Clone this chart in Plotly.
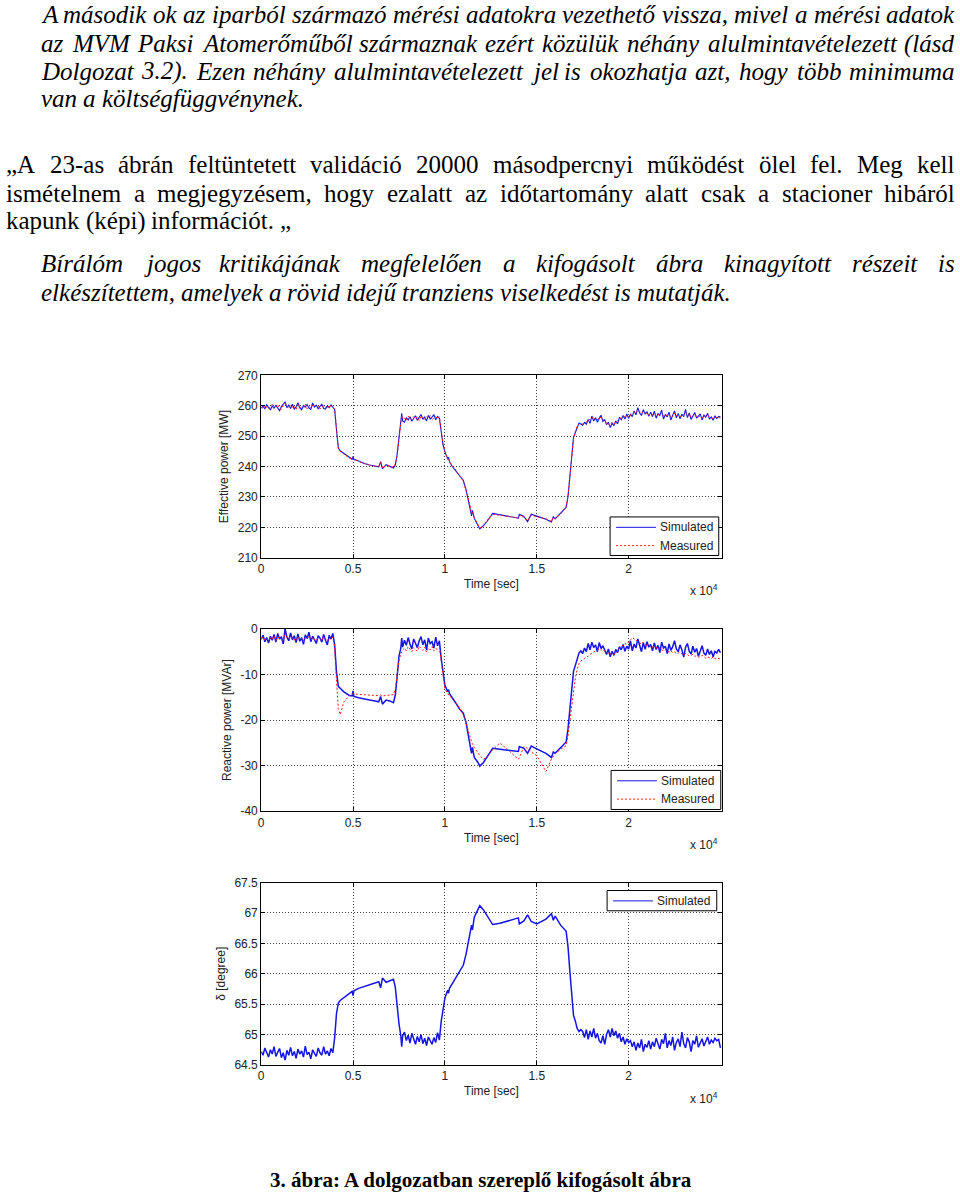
import plotly.graph_objects as go

W, H = 960, 1193

# ---------------- data (time in seconds) ----------------
t_sec = [0, 100, 200, 300, 400, 500, 600, 700, 800, 900, 1000, 1100, 1200, 1300, 1400, 1500, 1600, 1700, 1800, 1900,
         2000, 2100, 2200, 2300, 2400, 2500, 2600, 2700, 2800, 2900, 3000, 3100, 3200, 3300, 3400, 3500, 3600, 3700, 3800, 3900,
         4000, 4100, 4200, 4300, 4500, 4800, 4950, 5000, 5050, 5300, 5600, 5900, 6200, 6400, 6500, 6600, 6800, 7000, 7200, 7300,
         7400, 7500, 7600, 7650,
         7700, 7800, 7900, 8000, 8100, 8200, 8300, 8400, 8500, 8600, 8700, 8800, 8900, 9000, 9100, 9200, 9300, 9400, 9500, 9600, 9700,
         9800, 9900, 10000, 10150, 10200, 10250, 10400, 10600, 10800, 11000, 11150, 11300, 11400, 11450, 11500, 11600, 11800, 11900,
         12100, 12300, 12600, 13000, 13500, 14000, 14050, 14300, 14500, 14700, 15000, 15500, 15800, 15900, 16000, 16300, 16600,
         16700, 16800, 16900, 17000, 17100, 17200, 17300, 17400,
         17500, 17600, 17700, 17800, 17900, 18000, 18100, 18200, 18300, 18400, 18500, 18600, 18700, 18800, 18900, 19000, 19100,
         19200, 19300, 19400, 19500, 19600, 19700, 19800, 19900, 20000, 20100, 20200, 20300, 20400, 20500, 20600, 20700, 20800,
         20900, 21000, 21100, 21200, 21300, 21400, 21500, 21600, 21700, 21800, 21900, 22000, 22100, 22200, 22300, 22400, 22500,
         22600, 22700, 22800, 22900, 23000, 23100, 23200, 23300, 23400, 23500, 23600, 23700, 23800, 23900, 24000, 24100, 24200,
         24300, 24400, 24500, 24600, 24700, 24800, 24900, 25000]

p_sim = [259.2, 259.8, 259.0, 260.3, 259.5, 258.6, 259.9, 259.3, 260.1, 259.0, 258.4, 259.7, 260.6, 261.3, 259.4, 260.2, 259.1, 260.5, 258.9, 259.6,
         261.0, 259.3, 258.7, 260.0, 259.5, 260.4, 259.2, 258.8, 260.9, 259.6, 260.2, 259.0, 259.8, 260.5, 259.1, 258.9, 260.0, 259.4, 260.3, 259.6,
         258.8, 252.0, 246.0, 245.2, 244.3, 243.0, 242.4, 243.3, 242.3, 241.8, 241.0, 240.5, 240.2, 239.9, 241.6, 239.3, 240.6, 240.1, 239.5, 240.5,
         244.0, 249.5, 254.0, 257.5,
         255.0, 254.6, 256.1, 255.3, 256.4, 254.9, 255.8, 256.7, 255.2, 256.0, 257.1, 255.5, 256.3, 255.0, 256.8, 255.6, 256.2, 257.0, 255.4, 256.5, 255.9,
         251.5, 247.0, 244.8, 242.6, 243.0, 241.6, 240.0, 238.6, 237.2, 235.5, 232.5, 228.5, 226.0, 223.8, 225.6, 223.0, 220.6, 219.5,
         220.6, 222.0, 224.6, 224.2, 223.6, 223.0, 224.3, 223.6, 221.9, 224.3, 223.7, 222.7, 221.8, 223.5, 222.8, 224.6, 226.6,
         230.0, 236.0, 242.0, 249.5, 251.2, 253.0, 254.3, 254.0,
         253.6, 254.5, 253.9, 255.5, 254.2, 256.6, 255.0, 256.1, 254.6, 255.8, 256.9, 254.8, 255.4, 253.8, 254.6, 252.8, 254.2,
         253.5, 255.0, 254.0, 256.2, 255.4, 256.8, 255.6, 257.3, 255.9, 257.2, 256.4, 258.3, 257.0, 259.4, 257.6, 256.8, 258.7,
         257.3, 258.0, 256.5, 257.9, 256.4, 258.2, 255.9, 257.4, 256.8, 258.6, 255.6, 257.1, 256.3, 257.9, 255.3, 256.9, 258.3,
         256.0, 257.5, 255.7, 257.2, 256.4, 258.8, 256.1, 257.6, 255.5, 256.8, 257.8, 255.9, 256.6, 257.3, 255.4, 256.9, 256.2,
         257.5, 255.6, 256.3, 255.2, 256.7, 255.8, 256.5, 256.3]

p_meas = [259.6, 259.1, 260.2, 259.4, 258.9, 259.7, 260.4, 259.0, 259.6, 260.3, 259.2, 258.8, 260.1, 260.8, 259.9, 259.3, 260.4, 259.5, 259.8, 258.7,
          260.3, 259.9, 259.1, 259.5, 260.6, 259.0, 259.7, 259.3, 260.1, 260.4, 259.4, 259.9, 258.9, 259.6, 260.2, 259.5, 259.1, 260.2, 259.7, 259.2,
          259.0, 252.5, 246.3, 245.0, 244.1, 242.8, 242.6, 243.0, 242.5, 241.7, 241.1, 240.6, 240.0, 240.1, 241.3, 239.6, 240.4, 240.2, 239.7, 240.8,
          243.5, 249.0, 253.6, 256.8,
          255.6, 255.9, 255.2, 256.6, 255.7, 255.5, 256.4, 255.8, 256.3, 255.1, 256.5, 256.2, 255.4, 256.6, 255.9, 256.9, 255.3, 256.1, 256.4, 255.7, 256.3,
          252.0, 247.5, 245.0, 242.3, 242.8, 241.8, 240.2, 238.9, 237.0, 235.2, 232.0, 228.8, 226.5, 224.5, 225.2, 223.2, 220.8, 219.8,
          220.5, 222.3, 224.3, 224.0, 223.5, 223.1, 224.0, 223.4, 222.2, 224.0, 223.5, 222.8, 222.0, 223.2, 222.9, 224.4, 226.8,
          230.5, 236.5, 242.5, 249.0, 251.5, 253.2, 254.0, 254.3,
          254.0, 254.2, 254.6, 255.0, 255.7, 255.9, 256.3, 255.4, 255.2, 256.4, 256.0, 255.6, 254.9, 254.2, 253.9, 253.5, 254.6,
          254.0, 254.4, 255.2, 255.8, 256.0, 256.2, 256.5, 256.7, 256.4, 257.0, 257.5, 257.8, 257.6, 258.5, 258.2, 257.4, 258.0,
          257.6, 257.5, 257.0, 257.3, 257.0, 257.5, 256.6, 256.9, 257.3, 257.8, 256.5, 256.8, 256.9, 257.3, 256.2, 256.5, 257.6,
          256.8, 257.0, 256.4, 256.8, 256.9, 257.9, 256.7, 257.1, 256.3, 256.4, 257.2, 256.5, 256.2, 256.8, 256.0, 256.3, 256.5,
          256.9, 256.2, 256.0, 255.8, 256.2, 256.0, 256.1, 256.0]

q_sim = [-2.3, -1.4, -2.8, -1.9, -3.1, -1.6, -2.5, -1.2, -2.9, -1.0, -2.2, -1.7, -3.3, 0.0, -1.8, -2.6, -0.9, -2.4, -1.5, -3.0,
         -1.1, -2.7, -1.9, -3.4, -1.3, -2.1, -0.7, -2.8, -1.6, -2.4, -3.2, -1.5, -2.0, -2.9, -1.2, -2.5, -3.5, -1.4, -2.2, -1.0,
         -3.5, -9.5, -12.6, -13.0, -13.8, -14.6, -14.7, -13.6, -14.8, -15.1, -15.4, -15.6, -15.8, -16.0, -14.8, -16.5, -15.6, -15.8, -16.2, -14.5,
         -10.5, -6.0, -4.2, -2.0,
         -4.0, -2.5, -3.6, -1.9, -3.3, -4.4, -2.2, -3.0, -4.1, -2.6, -1.7, -3.5, -2.4, -4.6, -2.0, -3.2, -2.8, -4.2, -1.8, -3.7, -2.6,
         -6.5, -10.0, -12.3, -13.8, -13.3, -14.2, -15.0, -16.3, -17.6, -18.5, -20.5, -23.5, -25.5, -27.3, -26.0, -28.2, -29.3, -30.1,
         -29.3, -28.0, -26.2, -26.4, -26.6, -26.9, -25.8, -26.2, -27.3, -25.7, -26.3, -27.3, -28.2, -27.0, -27.3, -26.0, -24.8,
         -22.0, -18.0, -13.5, -9.3, -8.0, -6.5, -5.3, -4.8,
         -5.4, -4.2, -5.0, -3.2, -4.6, -2.9, -4.1, -3.5, -5.0, -3.0, -4.3, -3.7, -4.8, -5.6, -4.4, -6.1, -4.9,
         -5.8, -4.5, -5.2, -3.9, -4.6, -3.4, -4.9, -3.8, -4.4, -2.6, -4.8, -3.3, -4.2, -2.2, -3.9, -5.0, -3.0,
         -4.5, -2.8, -4.0, -3.4, -4.8, -3.1, -4.5, -3.6, -5.2, -2.9, -4.2, -3.8, -5.4, -3.3, -4.7, -3.9, -2.6,
         -4.4, -5.0, -3.5, -4.6, -6.2, -4.0, -3.2, -4.9, -5.5, -3.8, -5.1, -4.3, -6.0, -4.6, -3.7, -5.3, -5.8,
         -4.4, -5.6, -4.8, -6.1, -4.9, -5.3, -4.5, -5.2]

q_meas = [-2.0, -1.8, -2.4, -2.1, -2.6, -1.9, -2.2, -1.6, -2.5, -1.8, -2.0, -2.3, -2.7, -1.2, -1.9, -2.2, -1.6, -2.1, -2.4, -2.6,
          -1.7, -2.3, -2.0, -2.8, -1.9, -2.2, -1.5, -2.4, -2.0, -2.3, -2.6, -1.9, -2.1, -2.5, -1.8, -2.2, -2.7, -2.0, -2.3, -1.8,
          -4.0, -11.5, -17.5, -18.8, -16.0, -14.6, -14.3, -14.2, -14.3, -14.4, -14.5, -14.5, -14.6, -14.6, -14.5, -14.7, -14.6, -14.6, -14.4, -13.2,
          -10.0, -7.0, -5.5, -4.8,
          -4.6, -4.2, -4.8, -3.9, -4.5, -5.0, -4.1, -4.4, -4.9, -3.8, -4.3, -4.7, -4.0, -5.1, -4.2, -4.6, -3.9, -4.8, -4.3, -4.5, -4.1,
          -7.5, -10.5, -13.2, -14.2, -14.4, -14.6, -15.2, -16.2, -17.3, -18.8, -20.5, -22.8, -24.2, -24.8, -25.2, -26.0, -27.2, -27.8,
          -28.6, -28.0, -26.5, -25.0, -26.8, -28.6, -28.3, -25.8, -26.2, -27.0, -27.8, -31.3, -28.5, -27.8, -27.4, -26.4, -25.6,
          -23.5, -20.0, -16.5, -13.0, -10.8, -8.8, -7.6, -7.0,
          -6.8, -6.5, -6.2, -6.0, -5.6, -5.3, -5.0, -4.8, -4.6, -4.5, -4.7, -4.4, -4.9, -5.1, -5.3, -5.5, -5.2,
          -5.6, -5.4, -5.0, -4.3, -4.0, -3.6, -3.2, -3.4, -3.0, -2.4, -1.9, -2.2, -2.6, -2.8, -3.0, -3.3, -2.9,
          -3.4, -3.6, -3.5, -3.9, -4.0, -3.8, -4.2, -4.4, -4.1, -4.6, -4.8, -4.5, -4.9, -5.1, -4.8, -5.2, -5.0,
          -5.4, -5.3, -5.1, -5.5, -5.7, -5.4, -5.6, -5.9, -5.8, -5.6, -6.0, -5.9, -6.2, -6.1, -5.8, -6.2, -6.4,
          -6.1, -6.3, -6.5, -6.2, -6.6, -6.4, -6.5, -6.6]

delta_sim = [64.72, 64.66, 64.78, 64.69, 64.63, 64.75, 64.68, 64.80, 64.64, 64.71, 64.77, 64.62, 64.70, 64.58, 64.74, 64.66, 64.79, 64.65, 64.72, 64.61,
             64.76, 64.68, 64.73, 64.63, 64.81, 64.67, 64.71, 64.60, 64.75, 64.69, 64.64, 64.78, 64.70, 64.66, 64.80, 64.68, 64.73, 64.65, 64.77, 64.70,
             64.95, 65.35, 65.52, 65.56, 65.61, 65.68, 65.71, 65.64, 65.72, 65.76, 65.79, 65.82, 65.84, 65.87, 65.77, 65.93, 65.86, 65.88, 65.91, 65.78,
             65.45, 65.18, 64.98, 64.80,
             64.98, 65.04, 64.90, 64.99, 64.86, 65.02, 64.93, 64.84, 64.97, 64.88, 65.00, 64.85, 64.94, 64.82, 64.96, 64.89, 64.84, 64.95, 64.87, 65.03, 64.91,
             65.22, 65.45, 65.60, 65.73, 65.68, 65.76, 65.84, 65.95, 66.05, 66.14, 66.32, 66.55, 66.68, 66.80, 66.72, 66.93, 67.06, 67.12,
             67.05, 66.96, 66.81, 66.83, 66.87, 66.92, 66.82, 66.87, 66.97, 66.86, 66.82, 66.90, 66.99, 66.88, 66.95, 66.80, 66.70,
             66.45, 66.05, 65.65, 65.32, 65.22, 65.10, 65.05, 65.08,
             65.05, 64.95, 65.08, 64.92, 65.06, 64.96, 65.10, 64.94, 65.02, 64.90, 64.86, 64.98, 64.84, 65.00, 65.08, 64.96, 65.10,
             64.98, 65.06, 64.94, 65.02, 64.88, 64.96, 64.84, 64.93, 64.87, 64.90, 64.80, 64.88, 64.74, 64.86, 64.78, 64.92, 64.72,
             64.84, 64.79, 64.90, 64.76, 64.88, 64.80, 64.94, 64.83, 64.76, 64.92, 64.85, 65.02, 64.78, 64.90, 64.82, 64.96, 64.74,
             64.87, 64.93, 64.80, 65.04, 64.85, 64.78, 64.95, 64.88, 64.72, 64.90, 64.84, 64.98, 64.79, 64.86, 64.93, 64.81, 64.89,
             64.96, 64.84, 64.91, 64.87, 64.94, 64.90, 64.92, 64.78]

for arr in (p_sim, p_meas, q_sim, q_meas, delta_sim):
    assert len(arr) == len(t_sec), len(arr)

x_tick_vals = [0, 5000, 10000, 15000, 20000]
x_tick_text = ['0', '0.5', '1', '1.5', '2']
p_ticks = [210, 220, 230, 240, 250, 260, 270]
q_ticks = [-40, -30, -20, -10, 0]
d_ticks = [64.5, 65, 65.5, 66, 66.5, 67, 67.5]
d_tick_text = ['64.5', '65', '65.5', '66', '66.5', '67', '67.5']

para1 = ["A második ok az iparból származó mérési adatokra vezethető vissza, mivel a mérési adatok",
         "az MVM Paksi Atomerőműből származnak ezért közülük néhány alulmintavételezett (lásd",
         "Dolgozat 3.2). Ezen néhány alulmintavételezett jel is okozhatja azt, hogy több minimuma",
         "van a költségfüggvénynek."]
para2 = ["„A 23-as ábrán feltüntetett validáció 20000 másodpercnyi működést ölel fel. Meg kell",
         "ismételnem a megjegyzésem, hogy ezalatt az időtartomány alatt csak a stacioner hibáról",
         "kapunk (képi) információt. „"]
para3 = ["Bírálóm jogos kritikájának megfelelően a kifogásolt ábra kinagyított részeit is",
         "elkészítettem, amelyek a rövid idejű tranziens viselkedést is mutatják."]
caption = "3. ábra: A dolgozatban szereplő kifogásolt ábra"

# ---------------- figure ----------------
SANS = "Liberation Sans, Arial, sans-serif"
SERIF = "Liberation Serif"
BLUE = "#1414e6"
RED = "#ff1a1a"
DOT = "2px,2px"

fig = go.Figure()
fig.add_trace(go.Scatter(x=t_sec, y=p_sim, mode="lines", name="Simulated", line=dict(color=BLUE, width=1.1),
                         xaxis="x", yaxis="y"))
fig.add_trace(go.Scatter(x=t_sec, y=p_meas, mode="lines", name="Measured", line=dict(color=RED, width=1, dash=DOT),
                         xaxis="x", yaxis="y"))
fig.add_trace(go.Scatter(x=t_sec, y=q_sim, mode="lines", name="Simulated", line=dict(color=BLUE, width=1.5),
                         xaxis="x2", yaxis="y2"))
fig.add_trace(go.Scatter(x=t_sec, y=q_meas, mode="lines", name="Measured", line=dict(color=RED, width=1, dash=DOT),
                         xaxis="x2", yaxis="y2"))
fig.add_trace(go.Scatter(x=t_sec, y=delta_sim, mode="lines", name="Simulated", line=dict(color=BLUE, width=1.5),
                         xaxis="x3", yaxis="y3"))

BOX_L, BOX_R = 259, 721
PLOTS = [(372.7, 557.3), (629.3, 813.8), (886.0, 1070.5)]
tickfont = dict(family=SANS, size=12, color="#222")
grid = dict(showgrid=True, gridcolor="rgba(0,0,0,0.75)", griddash="1px,2px", gridwidth=1)

def xax(anchor):
    return dict(domain=[BOX_L / W, BOX_R / W], range=[0, 25070], anchor=anchor,
                tickmode="array", tickvals=x_tick_vals, ticktext=x_tick_text,
                ticks="inside", ticklen=4, tickcolor="black", showline=True, linecolor="black",
                linewidth=1, mirror="ticks", zeroline=False, tickfont=tickfont,
                title=dict(text="Time [sec]", font=tickfont, standoff=4), **grid)

def yax(anchor, top, bot, rng, vals, text, title):
    return dict(domain=[1 - bot / H, 1 - top / H], range=rng, anchor=anchor,
                tickmode="array", tickvals=vals, ticktext=text,
                ticks="inside", ticklen=4, tickcolor="black", showline=True, linecolor="black",
                linewidth=1, mirror="ticks", zeroline=False, tickfont=tickfont,
                title=dict(text=title, font=tickfont, standoff=6), **grid)

fig.update_layout(
    width=W, height=H, margin=dict(l=0, r=0, t=0, b=0),
    paper_bgcolor="white", plot_bgcolor="white", showlegend=False,
    xaxis=xax("y"), xaxis2=xax("y2"), xaxis3=xax("y3"),
    yaxis=yax("x", *PLOTS[0], [210, 270], p_ticks, [str(v) for v in p_ticks], "Effective power [MW]"),
    yaxis2=yax("x2", *PLOTS[1], [-40, 0], q_ticks, [str(v) for v in q_ticks], "Reactive power [MVAr]"),
    yaxis3=yax("x3", *PLOTS[2], [64.5, 67.5], d_ticks, d_tick_text, "δ [degree]"),
)

annotations = []
shapes = []

def px(x):
    return x / W

def py(y):
    return 1 - y / H

for (top, bot) in PLOTS:
    annotations.append(dict(x=px(719), y=py(bot + 33), xref="paper", yref="paper",
                            text="x 10<sup>4</sup>", showarrow=False, xanchor="right", yanchor="middle",
                            font=dict(family=SANS, size=12, color="#222")))

# ---- legend boxes (MATLAB style) ----
def legend_box(x0, x1, y0, y1, items):
    shapes.append(dict(type="rect", xref="paper", yref="paper", x0=px(x0), x1=px(x1), y0=py(y1), y1=py(y0),
                       line=dict(color="black", width=1), fillcolor="white", layer="above"))
    for (label, color, dash, yc) in items:
        shapes.append(dict(type="line", xref="paper", yref="paper", x0=px(x0 + 6), x1=px(x0 + 46),
                           y0=py(yc), y1=py(yc), line=dict(color=color, width=1, dash=dash), layer="above"))
        annotations.append(dict(x=px(x0 + 49), y=py(yc), xref="paper", yref="paper", text=label,
                                showarrow=False, xanchor="left", yanchor="middle", borderpad=0,
                                font=dict(family=SANS, size=12, color="#222")))

legend_box(609, 718, 516, 555, [("Simulated", BLUE, "solid", 526.5), ("Measured", RED, DOT, 545)])
legend_box(610, 720, 772.5, 812, [("Simulated", BLUE, "solid", 783), ("Measured", RED, DOT, 801.5)])
legend_box(606, 716, 894, 914.5, [("Simulated", BLUE, "solid", 904.5)])

# ---- Times-like advance widths (per 1000 em) for justified text layout ----
REG = dict(zip("abcdefghijklmnopqrstuvwxyz", [444, 500, 444, 500, 444, 333, 500, 500, 278, 278, 500, 278, 778, 500, 500, 500, 500, 333, 389, 278, 500, 500, 722, 500, 500, 444]))
REG.update({"A": 722, "M": 889, "„": 444, "-": 333, ".": 250, ",": 250, "(": 333, ")": 333, " ": 250})
REG.update({d: 500 for d in "0123456789"})
ITA = dict(zip("abcdefghijklmnopqrstuvwxyz", [500, 500, 444, 500, 444, 278, 500, 500, 278, 278, 444, 278, 722, 500, 500, 500, 500, 389, 389, 278, 500, 444, 667, 444, 444, 389]))
ITA.update({"A": 611, "M": 833, "V": 611, "P": 611, "D": 722, "E": 611, "B": 611, ".": 250, ",": 250,
            "(": 333, ")": 333, " ": 250})
ITA.update({d: 500 for d in "0123456789"})
BASE = str.maketrans("áéíóöőúüű", "aeiooouuu")
FS = 25

def wlen(s, table):
    return sum(table.get(c, 500) for c in s.translate(BASE)) * FS / 1000

def add_line(line, x0, x1, yc, italic, justify):
    words = line.split(" ")
    table = ITA if italic else REG
    widths = [wlen(w, table) for w in words]
    if justify and len(words) > 1:
        gap = (x1 - x0 - sum(widths)) / (len(words) - 1)
    else:
        gap = table[" "] * FS / 1000
    x = x0
    for i, (w, wd) in enumerate(zip(words, widths)):
        last = justify and i == len(words) - 1
        txt = f"<i>{w}</i>" if italic else w
        annotations.append(dict(x=px(x1 if last else x), y=py(yc), xref="paper", yref="paper",
                                text=txt, showarrow=False, xanchor="right" if last else "left",
                                yanchor="middle", borderpad=0, borderwidth=0,
                                font=dict(family=SERIF, size=FS, color="black")))
        x += wd + gap

for i, (line, yc) in enumerate(zip(para1, [8, 37, 65, 93])):
    add_line(line, 38, 955, yc, True, i < 3)
for i, (line, yc) in enumerate(zip(para2, [159.5, 188.5, 216.5])):
    add_line(line, 3, 955, yc, False, i < 2)
for i, (line, yc) in enumerate(zip(para3, [260, 289])):
    add_line(line, 38, 955, yc, True, i < 1)

annotations.append(dict(x=px(479), y=py(1187), xref="paper", yref="paper", text=f"<b>{caption}</b>",
                        showarrow=False, xanchor="center", yanchor="middle",
                        font=dict(family=SERIF, size=21, color="black")))

fig.update_layout(annotations=annotations, shapes=shapes)
fig.write_html("out.html")
